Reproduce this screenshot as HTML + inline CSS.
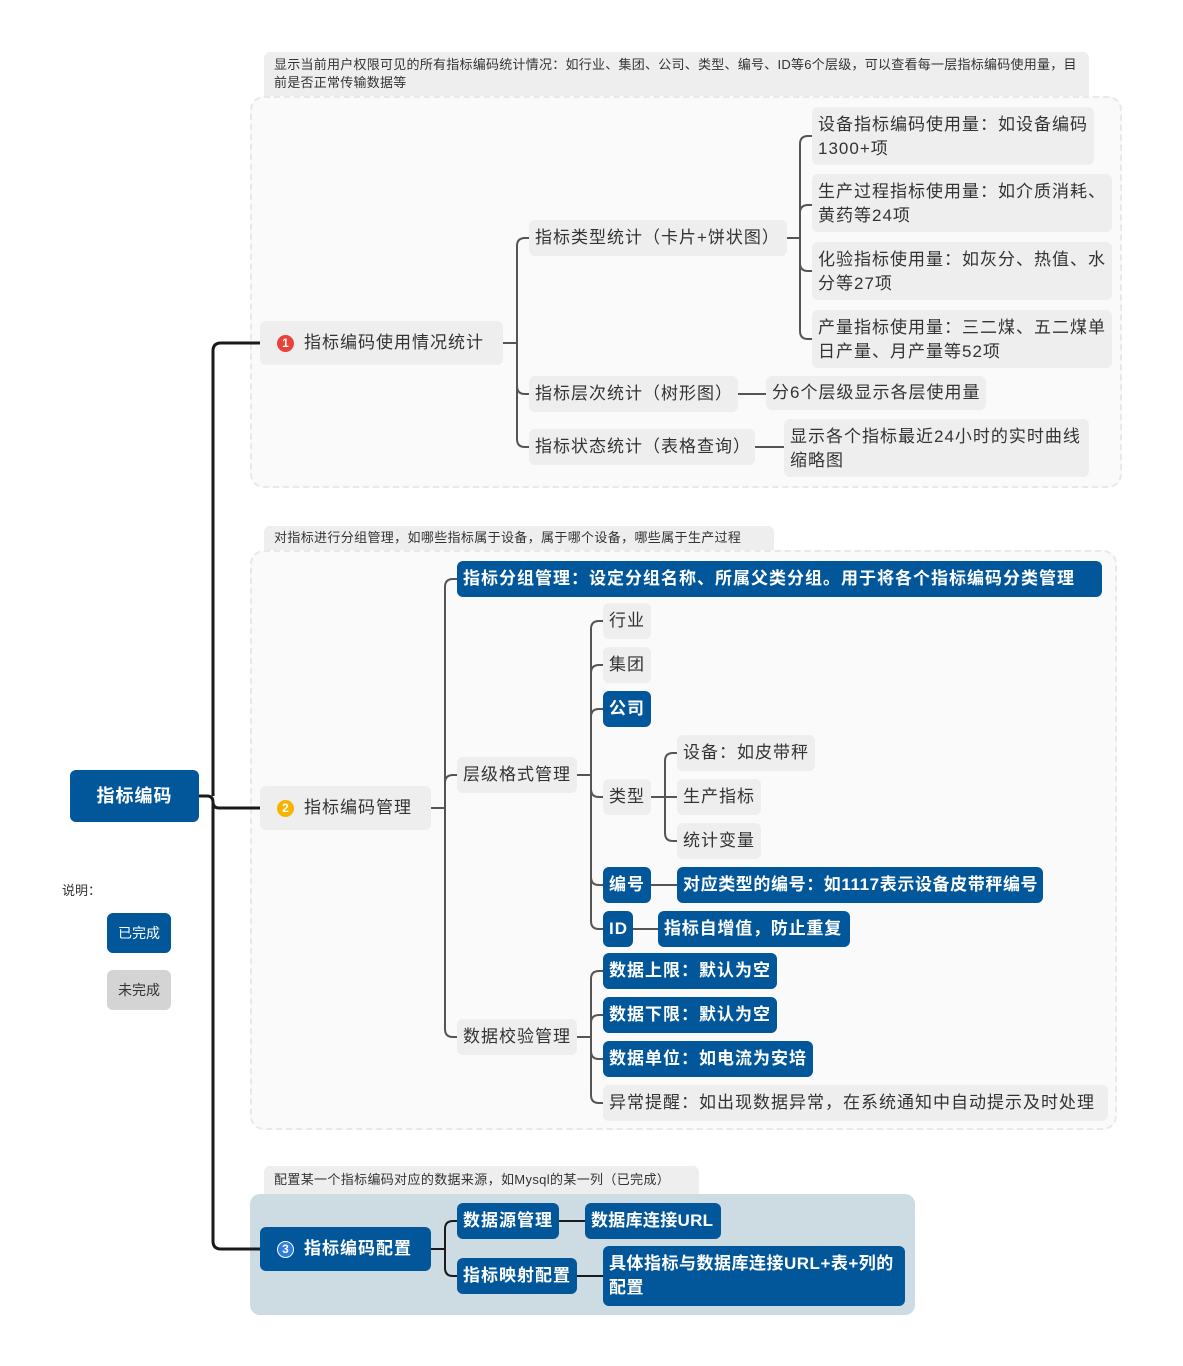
<!DOCTYPE html>
<html><head><meta charset="utf-8"><style>
body{margin:0;width:1183px;height:1366px;background:#fff;position:relative;overflow:hidden;font-family:"Liberation Sans","Noto Sans CJK SC",sans-serif;}
.a{position:absolute;box-sizing:border-box;}
.n{position:absolute;box-sizing:border-box;background:#eeeeee;color:#333;border-radius:6px;font-size:17px;line-height:24px;padding:6px 6px;white-space:nowrap;letter-spacing:1px;}
.b{background:#02579b;color:#fff;font-weight:bold;}
.note{position:absolute;background:#eeeeee;color:#333;font-size:13px;line-height:18px;padding:4px 10px;border-radius:6px 6px 0 0;box-sizing:border-box;letter-spacing:0.35px;}
.num{display:inline-block;width:17px;height:17px;border-radius:50%;color:#fff;font-size:12px;line-height:17px;text-align:center;font-weight:bold;vertical-align:1px;margin-right:10px;letter-spacing:0;}
</style></head><body>
<div class="a" style="left:250px;top:96px;width:872px;height:392px;background:#fafafa;border:2px dashed #e8e8e8;border-radius:14px;"></div>
<div class="a" style="left:250px;top:550px;width:867px;height:580px;background:#fafafa;border:2px dashed #e8e8e8;border-radius:14px;"></div>
<div class="a" style="left:250px;top:1194px;width:665px;height:121px;background:#cddce2;border-radius:10px;"></div>

<div class="note" style="left:264px;top:52px;width:825px;height:44px;padding-top:4px;letter-spacing:0.25px;">显示当前用户权限可见的所有指标编码统计情况：如行业、集团、公司、类型、编号、ID等6个层级，可以查看每一层指标编码使用量，目前是否正常传输数据等</div>
<div class="note" style="left:264px;top:526px;width:510px;height:24px;padding-top:3px;">对指标进行分组管理，如哪些指标属于设备，属于哪个设备，哪些属于生产过程</div>
<div class="note" style="left:264px;top:1166px;width:435px;height:28px;padding-top:5px;">配置某一个指标编码对应的数据来源，如Mysql的某一列（已完成）</div>

<svg class="a" style="left:0;top:0" width="1183" height="1366" fill="none">
<g stroke="#1a1a1a" stroke-width="3">
<path d="M199,796 H207 Q213,796 213,802 Q213,808 219,808 H260"/>
<path d="M213,796 V351 Q213,343 221,343 H260"/>
<path d="M213,802 V1241 Q213,1249 221,1249 H260"/>
</g>
<g stroke="#555" stroke-width="2">
<path d="M503,343 H517 V246 Q517,238 525,238 H529"/>
<path d="M517,343 V386 Q517,394 525,394 H529"/>
<path d="M517,343 V439 Q517,447 525,447 H529"/>
<path d="M787,238 H800 V144 Q800,136 808,136 H812"/>
<path d="M800,238 V213 Q800,205 808,205 H812"/>
<path d="M800,238 V263 Q800,271 808,271 H812"/>
<path d="M800,238 V331 Q800,339 808,339 H812"/>
<path d="M738,394 H766 M755,447 H784"/>
<path d="M431,808 H445 V587 Q445,579 453,579 H457"/>
<path d="M445,808 V783 Q445,775 453,775 H457"/>
<path d="M445,808 V1029 Q445,1037 453,1037 H457"/>
<path d="M577,775 H591 V629 Q591,621 599,621 H603"/>
<path d="M591,775 V673 Q591,665 599,665 H603"/>
<path d="M591,775 V717 Q591,709 599,709 H603"/>
<path d="M591,775 V789 Q591,797 599,797 H603"/>
<path d="M591,775 V877 Q591,885 599,885 H603"/>
<path d="M591,775 V921 Q591,929 599,929 H603"/>
<path d="M651,797 H665 V761 Q665,753 673,753 H677"/>
<path d="M665,797 H677"/>
<path d="M665,797 V833 Q665,841 673,841 H677"/>
<path d="M651,885 H677 M633,929 H658"/>
<path d="M577,1037 H591 V979 Q591,971 599,971 H603"/>
<path d="M591,1037 V1023 Q591,1015 599,1015 H603"/>
<path d="M591,1037 V1051 Q591,1059 599,1059 H603"/>
<path d="M591,1037 V1095 Q591,1103 599,1103 H603"/>
</g>
<g stroke="#1a1a1a" stroke-width="2">
<path d="M431,1249 H445 V1229 Q445,1221 453,1221 H457"/>
<path d="M445,1249 V1268 Q445,1276 453,1276 H457"/>
<path d="M559,1221 H585 M577,1276 H603"/>
</g>
</svg>

<div class="n b" style="left:70px;top:770px;width:129px;height:52px;font-size:18px;line-height:40px;text-align:center;">指标编码</div>
<div class="a" style="left:62px;top:880px;font-size:13px;color:#333;">说明：</div>
<div class="n b" style="left:107px;top:913px;width:64px;height:40px;font-size:14px;line-height:28px;text-align:center;font-weight:normal;letter-spacing:0;">已完成</div>
<div class="n" style="left:107px;top:970px;width:64px;height:40px;font-size:14px;line-height:28px;text-align:center;background:#d4d4d4;letter-spacing:0;">未完成</div>

<div class="n" style="left:260px;top:321px;width:243px;height:44px;padding:10px 17px;"><span class="num" style="background:#e8423b;">1</span>指标编码使用情况统计</div>
<div class="n" style="left:529px;top:220px;width:258px;height:36px;">指标类型统计（卡片+饼状图）</div>
<div class="n" style="left:529px;top:376px;width:209px;height:36px;">指标层次统计（树形图）</div>
<div class="n" style="left:529px;top:429px;width:226px;height:36px;">指标状态统计（表格查询）</div>
<div class="n" style="left:812px;top:107px;width:282px;height:58px;white-space:normal;">设备指标编码使用量：如设备编码1300+项</div>
<div class="n" style="left:812px;top:174px;width:300px;height:58px;white-space:normal;">生产过程指标使用量：如介质消耗、黄药等24项</div>
<div class="n" style="left:812px;top:242px;width:300px;height:58px;white-space:normal;">化验指标使用量：如灰分、热值、水分等27项</div>
<div class="n" style="left:812px;top:310px;width:300px;height:58px;white-space:normal;">产量指标使用量：三二煤、五二煤单日产量、月产量等52项</div>
<div class="n" style="left:766px;top:376px;width:220px;height:34px;padding-top:5px;">分6个层级显示各层使用量</div>
<div class="n" style="left:784px;top:419px;width:305px;height:58px;white-space:normal;">显示各个指标最近24小时的实时曲线缩略图</div>

<div class="n" style="left:260px;top:786px;width:171px;height:44px;padding:10px 17px;"><span class="num" style="background:#f5b400;">2</span>指标编码管理</div>
<div class="n b" style="left:457px;top:561px;width:645px;height:36px;">指标分组管理：设定分组名称、所属父类分组。用于将各个指标编码分类管理</div>
<div class="n" style="left:457px;top:757px;width:120px;height:36px;">层级格式管理</div>
<div class="n" style="left:457px;top:1019px;width:120px;height:36px;">数据校验管理</div>
<div class="n" style="left:603px;top:603px;width:48px;height:36px;">行业</div>
<div class="n" style="left:603px;top:647px;width:48px;height:36px;">集团</div>
<div class="n b" style="left:603px;top:691px;width:48px;height:36px;">公司</div>
<div class="n" style="left:603px;top:779px;width:48px;height:36px;">类型</div>
<div class="n b" style="left:603px;top:867px;width:48px;height:36px;">编号</div>
<div class="n b" style="left:603px;top:911px;width:30px;height:36px;">ID</div>
<div class="n" style="left:677px;top:735px;width:138px;height:36px;">设备：如皮带秤</div>
<div class="n" style="left:677px;top:779px;width:84px;height:36px;">生产指标</div>
<div class="n" style="left:677px;top:823px;width:84px;height:36px;">统计变量</div>
<div class="n b" style="left:677px;top:867px;width:366px;height:36px;letter-spacing:0.6px;">对应类型的编号：如1117表示设备皮带秤编号</div>
<div class="n b" style="left:658px;top:911px;width:192px;height:36px;letter-spacing:0.8px;">指标自增值，防止重复</div>
<div class="n b" style="left:603px;top:953px;width:174px;height:36px;">数据上限：默认为空</div>
<div class="n b" style="left:603px;top:997px;width:174px;height:36px;">数据下限：默认为空</div>
<div class="n b" style="left:603px;top:1041px;width:210px;height:36px;">数据单位：如电流为安培</div>
<div class="n" style="left:603px;top:1085px;width:505px;height:36px;">异常提醒：如出现数据异常，在系统通知中自动提示及时处理</div>

<div class="n b" style="left:260px;top:1227px;width:171px;height:44px;padding:10px 17px;"><span class="num" style="background:#2f7de1;border:1.5px solid #fff;width:15px;height:15px;line-height:15px;">3</span>指标编码配置</div>
<div class="n b" style="left:457px;top:1203px;width:102px;height:36px;">数据源管理</div>
<div class="n b" style="left:585px;top:1203px;width:136px;height:36px;letter-spacing:0.3px;">数据库连接URL</div>
<div class="n b" style="left:457px;top:1258px;width:120px;height:36px;">指标映射配置</div>
<div class="n b" style="left:603px;top:1246px;width:302px;height:60px;white-space:normal;letter-spacing:0.5px;">具体指标与数据库连接URL+表+列的配置</div>
</body></html>
